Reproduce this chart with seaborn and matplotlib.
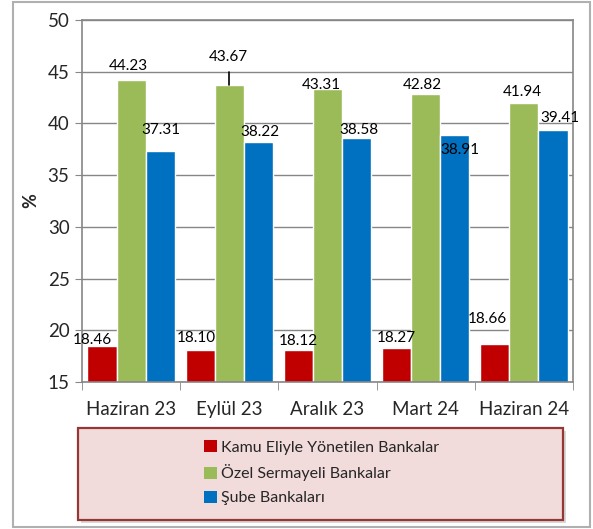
import pandas as pd
import numpy as np
import matplotlib
matplotlib.use("Agg")
import matplotlib.pyplot as plt
from matplotlib.patches import Rectangle, Patch
import seaborn as sns

#%%
periods = ["Haziran 23", "Eylül 23", "Aralık 23", "Mart 24", "Haziran 24"]
groups = ["Kamu Eliyle Yönetilen Bankalar", "Özel Sermayeli Bankalar", "Şube Bankaları"]
kamu = [18.46, 18.10, 18.12, 18.27, 18.66]
ozel = [44.23, 43.67, 43.31, 42.82, 41.94]
sube = [37.31, 38.22, 38.58, 38.91, 39.41]

colors = ["#C00000", "#9BBB59", "#0070C0"]

# label offsets in pixels (dx, dy) relative to bar top centre
label_dx = [[-10, -4, 0, 0, -7], [-3, -1, -6, -3, -2], [1, 1, 2, 5, 7]]
label_dy = [[6, 12, 9, 10, 25], [14, 28, 4, 9, 11], [21, 10, 8, -15, 12]]

#%%
df = pd.DataFrame({
    "Dönem": periods * 3,
    "Grup": [groups[0]] * 5 + [groups[1]] * 5 + [groups[2]] * 5,
    "Oran": kamu + ozel + sube,
})

sns.set_style("white")
plt.rcParams["font.family"] = ["Lato", "DejaVu Sans"]

fig = plt.figure(figsize=(5.93, 5.29), dpi=100)
ax = fig.add_axes([82 / 593, 1 - 382 / 529, 491 / 593, 362 / 529])

sns.barplot(data=df, x="Dönem", y="Oran", hue="Grup", hue_order=groups,
            palette=colors, saturation=1, width=0.89, ax=ax, legend=False)

ax.set_ylim(15, 50)
ax.set_xlim(-0.5, 4.5)
ax.set_yticks(range(15, 51, 5))
ax.set_xlabel("")
ax.set_ylabel("%", fontsize=13, fontweight="bold", labelpad=6)

grey = "#868686"
ax.grid(axis="y", color=grey, lw=1)
ax.set_axisbelow(True)
for s in ax.spines.values():
    s.set_color(grey)
    s.set_linewidth(1.2)

ax.tick_params(axis="y", labelsize=13.5, length=5, color=grey, left=True, pad=4)
ax.tick_params(axis="x", which="major", labelsize=13.5, length=0, pad=14)
ax.set_xticks(np.arange(-0.5, 5, 1), minor=True)
ax.tick_params(axis="x", which="minor", length=6, color=grey, bottom=True)

# data labels
for i, cont in enumerate(ax.containers):
    for j, bar in enumerate(cont):
        x = bar.get_x() + bar.get_width() / 2
        v = bar.get_height()
        ax.annotate(f"{v:.2f}", (x, v), xytext=(label_dx[i][j], label_dy[i][j]),
                    textcoords="offset pixels", ha="center", va="center",
                    fontsize=11, color="black")

# leader line for the second green label
b = ax.containers[1][1]
bx = b.get_x() + b.get_width() / 2
ax.plot([bx, bx], [b.get_height(), 45], color="black", lw=1.2)

# legend box
fig.add_artist(Rectangle((81 / 593, 1 - 523 / 529), 485 / 593, 92 / 529,
                         transform=fig.transFigure, facecolor="#bfbfbf",
                         edgecolor="none", alpha=0.6, zorder=1))
fig.add_artist(Rectangle((78 / 593, 1 - 520 / 529), 485 / 593, 92 / 529,
                         transform=fig.transFigure, facecolor="#F2DCDB",
                         edgecolor="#953735", lw=1.6, zorder=2))
handles = [Patch(facecolor=c, edgecolor="none") for c in colors]
leg = fig.legend(handles, groups, loc="upper left",
                 bbox_to_anchor=(196 / 593, 1 - 432 / 529), frameon=False,
                 handlelength=0.8, handleheight=0.8, handletextpad=0.25,
                 labelspacing=0.6, fontsize=11.5, borderpad=0)
leg.set_zorder(3)

# outer border
fig.add_artist(Rectangle((13 / 593, 2 / 529), 577 / 593, 525 / 529,
                         transform=fig.transFigure, fill=False,
                         edgecolor="#b0b0b0", lw=1.5))

fig.savefig("out.png", dpi=100)
